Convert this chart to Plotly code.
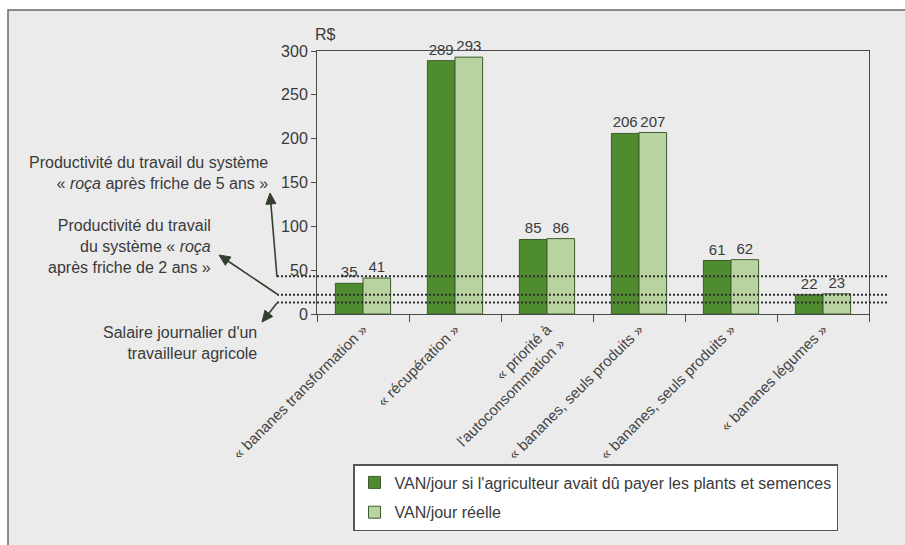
import math
import plotly.graph_objects as go

# ---- data ----
categories = [
    "« bananes transformation »",
    "« récupération »",
    "« priorité à<br>l'autoconsommation »",
    "« bananes, seuls produits »",
    "« bananes, seuls produits »",
    "« bananes légumes »",
]
van_payer = [35, 289, 85, 206, 61, 22]
van_reelle = [41, 293, 86, 207, 62, 23]
series_names = [
    "VAN/jour si l'agriculteur avait dû payer les plants et semences",
    "VAN/jour réelle",
]
ref_levels = [43, 22, 13]  # 5 ans, 2 ans, salaire
y_ticks = [0, 50, 100, 150, 200, 250, 300]
side_texts = [
    "Productivité du travail du système<br>« <i>roça</i> après friche de 5 ans »",
    "Productivité du travail<br>du système « <i>roça</i><br>après friche de 2 ans »",
    "Salaire journalier d'un<br>travailleur agricole",
]

FONT = "Liberation Sans, Arial, sans-serif"
FS = 16
TXT = "#3a3a3a"
DARK = "#4f8b2f"
LIGHT = "#b8d3a0"
EDGE = "#3d5c2c"
ARROW = "#34402e"

W, H = 905, 545
L, R, T, B = 317, 36, 51, 231
pw, ph = W - L - R, H - T - B


def px_x(px):
    return (px - L) / pw


def px_y(py):
    return (T + ph - py) / ph


xs = list(range(len(categories)))

fig = go.Figure()
fig.add_trace(go.Bar(
    x=xs, y=van_payer, name=series_names[0], legendgroup="a",
    marker=dict(color=DARK, line=dict(color=EDGE, width=1)),
    text=[str(v) for v in van_payer], textposition="outside",
    textfont=dict(size=15, color=TXT, family=FONT), cliponaxis=False,
))
fig.add_trace(go.Bar(
    x=xs, y=van_reelle, name=series_names[1], legendgroup="b",
    marker=dict(color=LIGHT, line=dict(color=EDGE, width=1)),
    text=[str(v) for v in van_reelle], textposition="outside",
    textfont=dict(size=15, color=TXT, family=FONT), cliponaxis=False,
))

shapes = [
    dict(type="rect", xref="paper", yref="paper",
         x0=px_x(8), x1=px_x(915), y0=px_y(560), y1=px_y(10),
         fillcolor="#ebebeb", line=dict(color="#6a6a60", width=1.5),
         layer="below"),
]
for lv in ref_levels:
    shapes.append(dict(type="line", xref="paper", yref="y",
                       x0=px_x(277), x1=px_x(887), y0=lv, y1=lv,
                       line=dict(color="#2e2e2e", width=2, dash="2px,2px"),
                       layer="above"))

# arrows (tip pixel, tail pixel) drawn as shaft + filled head
arrows = [((270, 193), (277, 277)), ((219, 255), (277, 294)), ((262, 322), (277, 303))]
HEAD_L, HEAD_W = 11, 5
for (tx, ty), (sx, sy) in arrows:
    dx, dy = tx - sx, ty - sy
    n = math.hypot(dx, dy)
    ux, uy = dx / n, dy / n
    bx, by = tx - ux * HEAD_L, ty - uy * HEAD_L
    shapes.append(dict(type="line", xref="paper", yref="paper",
                       x0=px_x(sx), y0=px_y(sy), x1=px_x(bx + ux * 2), y1=px_y(by + uy * 2),
                       line=dict(color=ARROW, width=1.6), layer="above"))
    p1 = (bx - uy * HEAD_W, by + ux * HEAD_W)
    p2 = (bx + uy * HEAD_W, by - ux * HEAD_W)
    path = "M {} {} L {} {} L {} {} Z".format(
        px_x(tx), px_y(ty), px_x(p1[0]), px_y(p1[1]), px_x(p2[0]), px_y(p2[1]))
    shapes.append(dict(type="path", xref="paper", yref="paper", path=path,
                       fillcolor=ARROW, line=dict(color=ARROW, width=1), layer="above"))

annotations = [
    dict(text="R$", xref="paper", yref="paper", x=px_x(313), y=px_y(35),
         xanchor="left", yanchor="middle", showarrow=False,
         font=dict(size=FS, color=TXT, family=FONT)),
    dict(text=side_texts[0], xref="paper", yref="paper", x=px_x(270), y=px_y(173),
         xanchor="right", yanchor="middle", align="right", showarrow=False,
         font=dict(size=FS, color=TXT, family=FONT)),
    dict(text=side_texts[1], xref="paper", yref="paper", x=px_x(213), y=px_y(246),
         xanchor="right", yanchor="middle", align="right", showarrow=False,
         font=dict(size=FS, color=TXT, family=FONT)),
    dict(text=side_texts[2], xref="paper", yref="paper", x=px_x(259), y=px_y(343),
         xanchor="right", yanchor="middle", align="right", showarrow=False,
         font=dict(size=FS, color=TXT, family=FONT)),
]

fig.update_layout(
    width=W, height=H,
    margin=dict(l=L, r=R, t=T, b=B, pad=0),
    paper_bgcolor="white", plot_bgcolor="white",
    barmode="group", bargap=0.4, bargroupgap=0,
    font=dict(family=FONT, size=FS, color=TXT),
    shapes=shapes, annotations=annotations,
    showlegend=True,
    legend=dict(
        x=px_x(353), y=px_y(464), xanchor="left", yanchor="top",
        bgcolor="white", bordercolor="#555", borderwidth=1.5,
        font=dict(size=FS, color=TXT, family=FONT),
        traceorder="grouped", tracegroupgap=6,
    ),
    xaxis=dict(
        range=[-0.5, 5.5], tickmode="array", tickvals=xs, ticktext=categories,
        tickangle=-45, ticks="", showgrid=False, zeroline=False,
        showline=True, linecolor="#4a4a4a", linewidth=1, mirror=True,
        tickfont=dict(size=15, color="#444", family=FONT),
        minor=dict(tickmode="array", tickvals=[i - 0.5 for i in range(len(categories) + 1)],
                   ticks="outside", ticklen=7, tickcolor="#4a4a4a", tickwidth=1,
                   showgrid=False),
    ),
    yaxis=dict(
        range=[0, 300], tickmode="array", tickvals=y_ticks,
        ticks="outside", ticklen=5, tickcolor="#4a4a4a",
        showgrid=False, zeroline=False,
        showline=True, linecolor="#4a4a4a", linewidth=1, mirror=True,
        tickfont=dict(size=FS, color=TXT, family=FONT),
    ),
)

fig.write_html("out.html")
